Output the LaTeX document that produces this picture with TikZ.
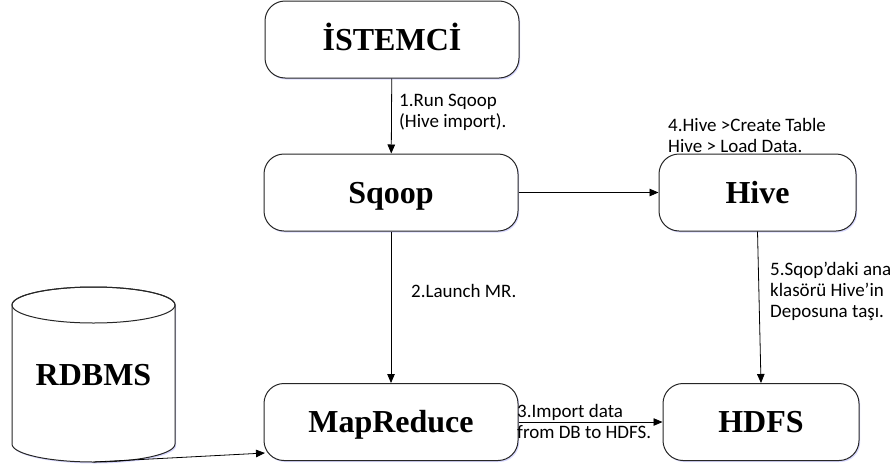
\documentclass[tikz,border=0pt]{standalone}
\usepackage{fontspec}
\setmainfont{Liberation Serif}
\newfontfamily\lblfont{Carlito}
\usetikzlibrary{arrows.meta,shadows,positioning}

\tikzset{
  title/.style={inner sep=0pt, text height=21.5pt, text depth=0pt,
    font=\bfseries\fontsize{32}{36}\selectfont},
  softshadow/.style={drop shadow={shadow xshift=1.2pt, shadow yshift=-1.5pt,
    fill=blue!30!white, opacity=0.5}},
  box/.style={title, draw=black!85, line width=1pt, rounded corners=20pt, fill=white,
    minimum height=77pt, softshadow},
  arr/.style={line width=0.8pt, -{Triangle[length=9pt,width=7.5pt]}},
  lbl/.style={anchor=north west, inner sep=0pt, align=left,
    font=\lblfont\fontsize{19}{21}\selectfont}
}

\begin{document}
\begin{tikzpicture}[x=1pt,y=-1pt]
            \useasboundingbox (0,0) rectangle (893,466);

            \node[box, minimum width=254pt] (ist) at (392, 39.5) { İSTEMCİ };
            \node[box, minimum width=254pt] (sq) at (391, 192.5) { Sqoop };
            \node[box, minimum width=197pt] (hv) at (757.5, 192.5) { Hive };
            \node[box, minimum width=254pt] (mr) at (391, 422) { MapReduce };
            \node[box, minimum width=196pt] (hd) at (761, 422) { HDFS };

            % database drum
            \path[draw=black!85, line width=1pt, fill=white, softshadow]
                (12, 305) -- (12, 444)
                arc[start angle=180, end angle=0, x radius=81.5, y radius=18]
                -- (175, 305)
                arc[start angle=360, end angle=180, x radius=81.5, y radius=18] -- cycle;
            \draw[black!85, line width=1pt] (93.5, 305) ellipse [x radius=81.5, y radius=18];
            \node[title] (db) at (93.5, 374.5) { RDBMS };
            \coordinate (dbbot) at (93.5, 462);
            \coordinate (mrin) at (265, 453);

            \node[lbl] (l1) at (399, 94) { 1.Run Sqoop\\(Hive import). };
            \node[lbl] (l2) at (411, 284) { 2.Launch MR. };
            \node[lbl] (l3) at (517, 404) { 3.Import data\\from DB to HDFS. };
            \node[lbl] (l4) at (668, 118) { 4.Hive >Create Table\\Hive > Load Data. };
            \node[lbl] (l5) at (770, 262) { 5.Sqop’daki ana\\klasörü Hive’in\\Deposuna taşı. };

            \draw[arr] (ist) -- (sq);
            \draw[arr] (sq) -- (hv);
            \draw[arr] (sq) -- (mr);
            \draw[arr] (mr) -- (hd);
            \draw[arr] (hv.south) -- (hd.north);
            \draw[arr] (dbbot) -- (mrin);
\end{tikzpicture}
\end{document}
